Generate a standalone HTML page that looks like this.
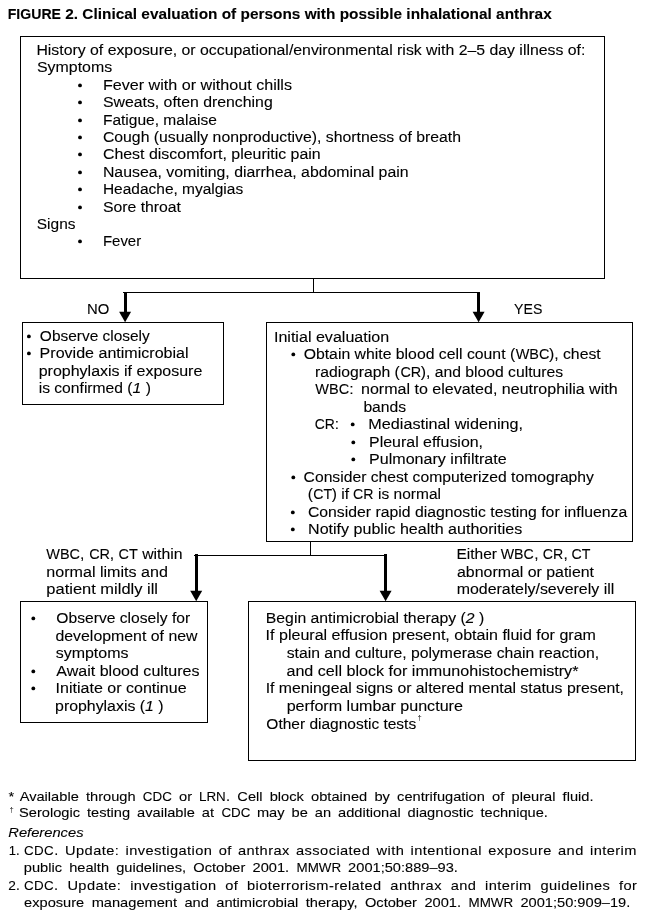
<!DOCTYPE html><html><head><meta charset="utf-8"><title>Figure 2</title><style>
html,body{margin:0;padding:0;background:#fff;}
#p{filter:grayscale(1);position:relative;width:645px;height:916px;overflow:hidden;background:#fff;font-family:"Liberation Sans",sans-serif;color:#000;}
.l{position:absolute;left:0;top:0;white-space:pre;line-height:1;transform-origin:0 0;-webkit-text-stroke:0.1px #000;}
.c{display:inline-block;transform:scaleX(0.915);transform-origin:0 50%;}
.bx{position:absolute;border:1px solid #000;box-sizing:border-box;}
.ln{position:absolute;background:#000;}
.d{position:absolute;width:4.2px;height:4.2px;border-radius:50%;background:#000;}
svg{position:absolute;left:0;top:0;}

</style></head><body><div id="p">
<div class="bx" style="left:20px;top:36px;width:585px;height:243px"></div>
<div class="bx" style="left:22px;top:322px;width:202px;height:83px"></div>
<div class="bx" style="left:266px;top:322px;width:367px;height:220px"></div>
<div class="bx" style="left:20px;top:601px;width:188px;height:122px"></div>
<div class="bx" style="left:248px;top:601px;width:388px;height:160px"></div>
<div class="ln" style="left:313px;top:278px;width:1px;height:15px"></div>
<div class="ln" style="left:123px;top:292px;width:357px;height:1px"></div>
<div class="ln" style="left:310px;top:541px;width:1px;height:14px"></div>
<div class="ln" style="left:194px;top:555px;width:193px;height:1px"></div>
<div class="ln" style="left:124px;top:292px;width:3px;height:21px"></div>
<div class="ln" style="left:477px;top:292px;width:3px;height:21px"></div>
<div class="ln" style="left:195px;top:554px;width:3px;height:37px"></div>
<div class="ln" style="left:384px;top:554px;width:3px;height:37px"></div>
<svg width="645" height="916" viewBox="0 0 645 916">
<path d="M119.1 311.8 L131.1 311.8 L125.1 322.3 Z" fill="#000"/>
<path d="M472.6 311.8 L484.6 311.8 L478.6 322.3 Z" fill="#000"/>
<path d="M190.2 590.8 L202.2 590.8 L196.2 601.3 Z" fill="#000"/>
<path d="M379.6 590.8 L391.6 590.8 L385.6 601.3 Z" fill="#000"/>
<circle cx="80.0" cy="85.4" r="1.9" fill="#000"/>
<circle cx="80.0" cy="102.4" r="1.9" fill="#000"/>
<circle cx="80.0" cy="120.4" r="1.9" fill="#000"/>
<circle cx="80.0" cy="137.4" r="1.9" fill="#000"/>
<circle cx="80.0" cy="154.4" r="1.9" fill="#000"/>
<circle cx="80.0" cy="172.4" r="1.9" fill="#000"/>
<circle cx="80.0" cy="189.4" r="1.9" fill="#000"/>
<circle cx="80.0" cy="207.4" r="1.9" fill="#000"/>
<circle cx="80.0" cy="241.4" r="1.9" fill="#000"/>
<circle cx="28.9" cy="336.4" r="1.9" fill="#000"/>
<circle cx="28.9" cy="353.4" r="1.9" fill="#000"/>
<circle cx="293.3" cy="354.4" r="1.9" fill="#000"/>
<circle cx="352.7" cy="424.4" r="1.9" fill="#000"/>
<circle cx="353.3" cy="442.4" r="1.9" fill="#000"/>
<circle cx="353.3" cy="459.4" r="1.9" fill="#000"/>
<circle cx="293.3" cy="477.4" r="1.9" fill="#000"/>
<circle cx="292.8" cy="512.4" r="1.9" fill="#000"/>
<circle cx="292.8" cy="529.4" r="1.9" fill="#000"/>
<circle cx="33.3" cy="618.4" r="1.9" fill="#000"/>
<circle cx="33.3" cy="671.4" r="1.9" fill="#000"/>
<circle cx="33.3" cy="688.4" r="1.9" fill="#000"/>
</svg>
<div class="l" style="font-size:15px;font-weight:bold;transform:translate(7.77px,6.00px) scaleX(1.0257);"><span class="c" style="margin-right:-4.82px">FIGURE</span> 2. Clinical evaluation of persons with possible inhalational anthrax</div>
<div class="l" style="font-size:14px;transform:translate(36.40px,43.00px) scaleX(1.1305);">History of exposure, or occupational/environmental risk with 2–5 day illness of:</div>
<div class="l" style="font-size:14px;transform:translate(36.98px,60.00px) scaleX(1.1372);">Symptoms</div>
<div class="l" style="font-size:14px;transform:translate(102.88px,78.00px) scaleX(1.1519);">Fever with or without chills</div>
<div class="l" style="font-size:14px;transform:translate(102.90px,95.00px) scaleX(1.1305);">Sweats, often drenching</div>
<div class="l" style="font-size:14px;transform:translate(102.93px,113.00px) scaleX(1.1095);">Fatigue, malaise</div>
<div class="l" style="font-size:14px;transform:translate(102.91px,130.00px) scaleX(1.1276);">Cough (usually nonproductive), shortness of breath</div>
<div class="l" style="font-size:14px;transform:translate(102.89px,147.00px) scaleX(1.1380);">Chest discomfort, pleuritic pain</div>
<div class="l" style="font-size:14px;transform:translate(102.90px,165.00px) scaleX(1.1318);">Nausea, vomiting, diarrhea, abdominal pain</div>
<div class="l" style="font-size:14px;transform:translate(102.93px,182.00px) scaleX(1.1054);">Headache, myalgias</div>
<div class="l" style="font-size:14px;transform:translate(102.90px,200.00px) scaleX(1.1277);">Sore throat</div>
<div class="l" style="font-size:14px;transform:translate(36.80px,217.00px) scaleX(1.1036);">Signs</div>
<div class="l" style="font-size:14px;transform:translate(102.98px,234.00px) scaleX(1.0664);">Fever</div>
<div class="l" style="font-size:14px;transform:translate(86.97px,302.00px) scaleX(1.1599);"><span class="c" style="margin-right:-1.78px">NO</span></div>
<div class="l" style="font-size:14px;transform:translate(514.06px,302.00px) scaleX(1.1016);"><span class="c" style="margin-right:-2.38px">YES</span></div>
<div class="l" style="font-size:14px;transform:translate(39.87px,329.00px) scaleX(1.1031);">Observe closely</div>
<div class="l" style="font-size:14px;transform:translate(39.58px,346.00px) scaleX(1.1465);">Provide antimicrobial</div>
<div class="l" style="font-size:14px;transform:translate(38.67px,364.00px) scaleX(1.1429);">prophylaxis if exposure</div>
<div class="l" style="font-size:14px;transform:translate(38.65px,381.00px) scaleX(1.1178);">is confirmed (<i>1</i> )</div>
<div class="l" style="font-size:14px;transform:translate(273.92px,330.00px) scaleX(1.1486);">Initial evaluation</div>
<div class="l" style="font-size:14px;transform:translate(303.65px,347.00px) scaleX(1.1279);">Obtain white blood cell count (<span class="c" style="margin-right:-2.78px">WBC</span>), chest</div>
<div class="l" style="font-size:14px;transform:translate(315.06px,365.00px) scaleX(1.1233);">radiograph (<span class="c" style="margin-right:-1.72px">CR</span>), and blood cultures</div>
<div class="l" style="font-size:14px;transform:translate(315.33px,382.00px) scaleX(1.1338);"><span class="c" style="margin-right:-2.78px">WBC</span>:</div>
<div class="l" style="font-size:14px;transform:translate(361.04px,382.00px) scaleX(1.1448);">normal to elevated, neutrophilia with</div>
<div class="l" style="font-size:14px;transform:translate(363.39px,400.00px) scaleX(1.1211);">bands</div>
<div class="l" style="font-size:14px;transform:translate(314.63px,417.00px) scaleX(1.0873);"><span class="c" style="margin-right:-1.72px">CR</span>:</div>
<div class="l" style="font-size:14px;transform:translate(368.37px,417.00px) scaleX(1.1555);">Mediastinal widening,</div>
<div class="l" style="font-size:14px;transform:translate(369.09px,435.00px) scaleX(1.1378);">Pleural effusion,</div>
<div class="l" style="font-size:14px;transform:translate(369.08px,452.00px) scaleX(1.1477);">Pulmonary infiltrate</div>
<div class="l" style="font-size:14px;transform:translate(303.60px,470.00px) scaleX(1.1203);">Consider chest computerized tomography</div>
<div class="l" style="font-size:14px;transform:translate(307.74px,487.00px) scaleX(1.1061);">(<span class="c" style="margin-right:-1.59px">CT</span>) if <span class="c" style="margin-right:-1.72px">CR</span> is normal</div>
<div class="l" style="font-size:14px;transform:translate(307.90px,505.00px) scaleX(1.1272);">Consider rapid diagnostic testing for influenza</div>
<div class="l" style="font-size:14px;transform:translate(308.08px,522.00px) scaleX(1.1462);">Notify public health authorities</div>
<div class="l" style="font-size:14px;transform:translate(46.33px,547.00px) scaleX(1.1278);"><span class="c" style="margin-right:-2.78px">WBC</span>, <span class="c" style="margin-right:-1.72px">CR</span>, <span class="c" style="margin-right:-1.59px">CT</span> within</div>
<div class="l" style="font-size:14px;transform:translate(46.33px,565.00px) scaleX(1.1491);">normal limits and</div>
<div class="l" style="font-size:14px;transform:translate(46.34px,582.00px) scaleX(1.1762);">patient mildly ill</div>
<div class="l" style="font-size:14px;transform:translate(456.43px,547.00px) scaleX(1.1068);">Either <span class="c" style="margin-right:-2.78px">WBC</span>, <span class="c" style="margin-right:-1.72px">CR</span>, <span class="c" style="margin-right:-1.59px">CT</span></div>
<div class="l" style="font-size:14px;transform:translate(457.02px,565.00px) scaleX(1.1355);">abnormal or patient</div>
<div class="l" style="font-size:14px;transform:translate(456.64px,582.00px) scaleX(1.1381);">moderately/severely ill</div>
<div class="l" style="font-size:14px;transform:translate(56.36px,611.00px) scaleX(1.1166);">Observe closely for</div>
<div class="l" style="font-size:14px;transform:translate(55.43px,629.00px) scaleX(1.1342);">development of new</div>
<div class="l" style="font-size:14px;transform:translate(55.66px,646.00px) scaleX(1.1415);">symptoms</div>
<div class="l" style="font-size:14px;transform:translate(56.37px,664.00px) scaleX(1.1445);">Await blood cultures</div>
<div class="l" style="font-size:14px;transform:translate(55.62px,681.00px) scaleX(1.1450);">Initiate or continue</div>
<div class="l" style="font-size:14px;transform:translate(55.08px,699.00px) scaleX(1.1334);">prophylaxis (<i>1</i> )</div>
<div class="l" style="font-size:14px;transform:translate(265.81px,611.00px) scaleX(1.1269);">Begin antimicrobial therapy (<i>2</i> )</div>
<div class="l" style="font-size:14px;transform:translate(265.62px,628.00px) scaleX(1.1451);">If pleural effusion present, obtain fluid for gram</div>
<div class="l" style="font-size:14px;transform:translate(286.66px,646.00px) scaleX(1.1243);">stain and culture, polymerase chain reaction,</div>
<div class="l" style="font-size:14px;transform:translate(286.42px,664.00px) scaleX(1.1513);">and cell block for immunohistochemistry*</div>
<div class="l" style="font-size:14px;transform:translate(265.64px,681.00px) scaleX(1.1287);">If meningeal signs or altered mental status present,</div>
<div class="l" style="font-size:14px;transform:translate(286.66px,699.00px) scaleX(1.1497);">perform lumbar puncture</div>
<div class="l" style="font-size:14px;transform:translate(266.37px,717.00px) scaleX(1.1062);">Other diagnostic tests</div>
<div class="l" style="font-size:13.3px;transform:translate(8.46px,790.00px) scaleX(1.1000);">*</div>
<div class="l" style="font-size:13.3px;transform:translate(19.67px,790.00px) scaleX(1.1000);word-spacing:2.861px;">Available through <span class="c" style="margin-right:-2.45px">CDC</span> or <span class="c" style="margin-right:-2.26px">LRN</span>. Cell block obtained by centrifugation of pleural fluid.</div>
<div class="l" style="font-size:13.3px;transform:translate(19.04px,806.00px) scaleX(1.1000);word-spacing:2.644px;">Serologic testing available at <span class="c" style="margin-right:-2.45px">CDC</span> may be an additional diagnostic technique.</div>
<div class="l" style="font-size:13.3px;font-style:italic;transform:translate(8.25px,826.00px) scaleX(1.1067);">References</div>
<div class="l" style="font-size:13.3px;transform:translate(8.81px,844.00px) scaleX(0.9812);">1.</div>
<div class="l" style="font-size:13.3px;letter-spacing:0.391px;transform:translate(23.96px,844.00px) scaleX(1.1000);word-spacing:1.600px;"><span class="c" style="margin-right:-2.45px">CDC</span>. Update: investigation of anthrax associated with intentional exposure and interim</div>
<div class="l" style="font-size:13.3px;transform:translate(23.76px,861.00px) scaleX(1.1000);word-spacing:2.839px;">public health guidelines, October 2001. <span class="c" style="margin-right:-3.77px">MMWR</span> 2001;50:889–93.</div>
<div class="l" style="font-size:13.3px;transform:translate(8.31px,879.00px) scaleX(1.0314);">2.</div>
<div class="l" style="font-size:13.3px;letter-spacing:0.347px;transform:translate(23.96px,879.00px) scaleX(1.1000);word-spacing:4.000px;"><span class="c" style="margin-right:-2.45px">CDC</span>. Update: investigation of bioterrorism-related anthrax and interim guidelines for</div>
<div class="l" style="font-size:13.3px;transform:translate(24.08px,896.00px) scaleX(1.1000);word-spacing:3.042px;">exposure management and antimicrobial therapy, October 2001. <span class="c" style="margin-right:-3.77px">MMWR</span> 2001;50:909–19.</div>
<div class="l" style="left:417.6px;top:714.2px;font-size:7.5px;color:#111;-webkit-text-stroke:0;">†</div>
<div class="l" style="left:9.5px;top:806.0px;font-size:7.5px;color:#111;-webkit-text-stroke:0;">†</div>
</div></body></html>
